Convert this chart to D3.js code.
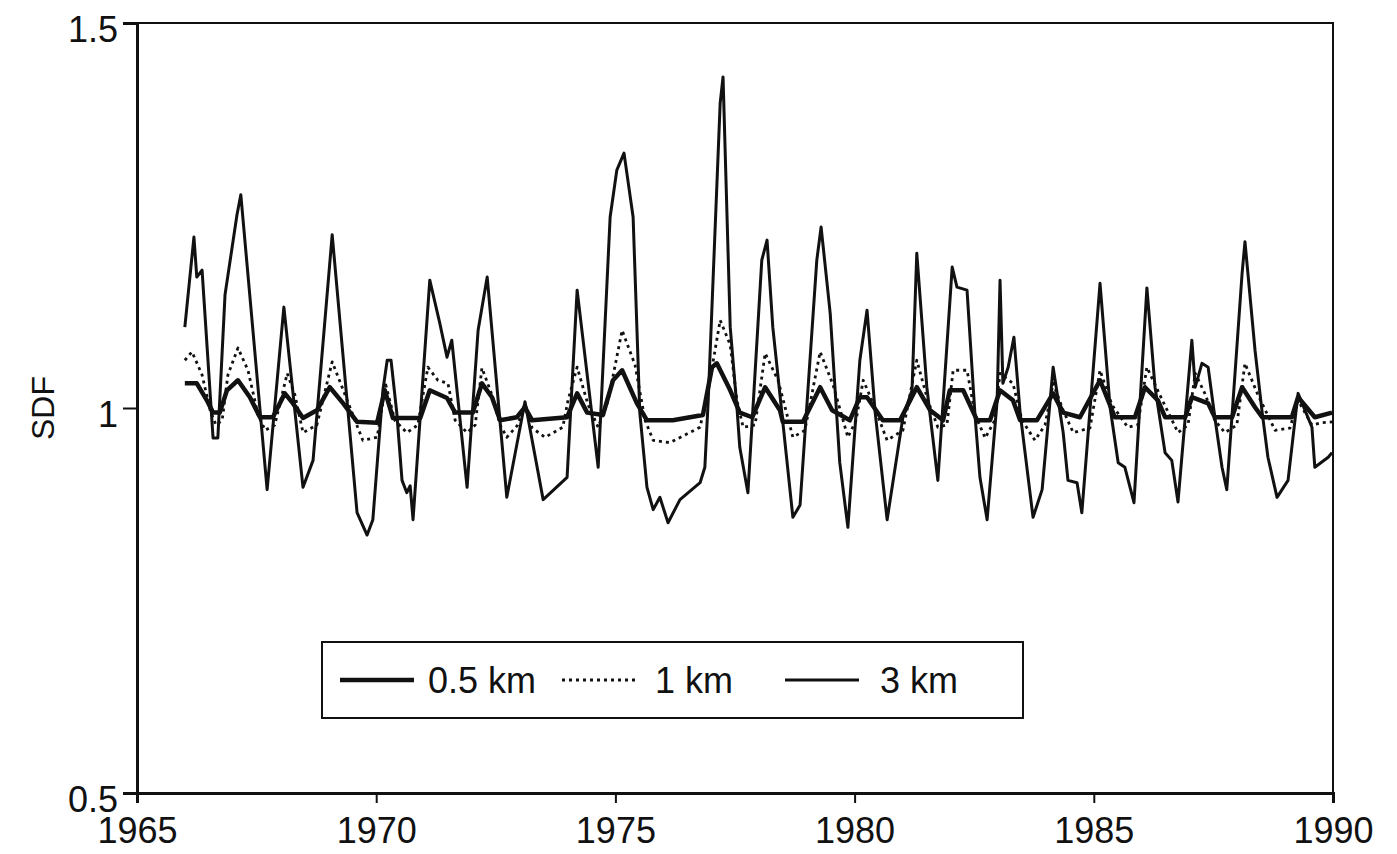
<!DOCTYPE html>
<html>
<head>
<meta charset="utf-8">
<script src="https://cdn.jsdelivr.net/npm/d3@7"></script>
<style>
  html, body { margin: 0; padding: 0; background: #fff; }
  svg text { font-family: "Liberation Sans", Arial, sans-serif; fill: #111; }
</style>
</head>
<body>
<svg id="chart" width="1397" height="854"></svg>
<script>
'use strict';

// SDF series: [year, value]
var km05 = [
  [1966.00, 1.032], [1966.25, 1.032], [1966.46, 1.010], [1966.59, 0.994], [1966.73, 0.994],
  [1966.88, 1.023], [1967.11, 1.036], [1967.36, 1.014], [1967.57, 0.988], [1967.84, 0.988],
  [1968.09, 1.019], [1968.26, 1.006], [1968.47, 0.987], [1968.76, 0.997], [1969.03, 1.027],
  [1969.31, 1.006], [1969.60, 0.982], [1970.02, 0.981], [1970.18, 1.023], [1970.35, 0.987],
  [1970.92, 0.987], [1971.12, 1.023], [1971.48, 1.013], [1971.65, 0.994], [1972.02, 0.994],
  [1972.21, 1.032], [1972.42, 1.014], [1972.59, 0.984], [1972.94, 0.988], [1973.11, 1.001],
  [1973.26, 0.984], [1973.99, 0.988], [1974.20, 1.019], [1974.41, 0.994], [1974.74, 0.991],
  [1974.95, 1.036], [1975.14, 1.049], [1975.45, 1.006], [1975.66, 0.984], [1976.20, 0.984],
  [1976.83, 0.991], [1977.02, 1.053], [1977.12, 1.058], [1977.40, 1.023], [1977.60, 0.994],
  [1977.86, 0.988], [1978.13, 1.027], [1978.44, 0.997], [1978.50, 0.982], [1978.92, 0.982],
  [1979.28, 1.027], [1979.53, 0.997], [1979.90, 0.984], [1980.11, 1.014], [1980.26, 1.014],
  [1980.59, 0.984], [1980.95, 0.984], [1981.30, 1.027], [1981.58, 0.997], [1981.85, 0.984],
  [1981.99, 1.023], [1982.27, 1.023], [1982.56, 0.984], [1982.83, 0.984], [1983.04, 1.023],
  [1983.31, 1.010], [1983.46, 0.984], [1983.81, 0.984], [1984.15, 1.019], [1984.36, 0.994],
  [1984.71, 0.988], [1985.13, 1.036], [1985.44, 0.988], [1985.86, 0.988], [1986.07, 1.027],
  [1986.34, 1.010], [1986.49, 0.988], [1986.91, 0.988], [1987.05, 1.014], [1987.39, 1.006],
  [1987.53, 0.988], [1987.89, 0.988], [1988.10, 1.027], [1988.37, 1.001], [1988.52, 0.988],
  [1989.14, 0.988], [1989.27, 1.014], [1989.62, 0.988], [1989.98, 0.994]
];

var km1 = [
  [1966.00, 1.062], [1966.15, 1.073], [1966.36, 1.043], [1966.53, 0.997], [1966.65, 0.978],
  [1966.78, 0.984], [1966.90, 1.043], [1967.11, 1.078], [1967.32, 1.049], [1967.53, 0.991],
  [1967.68, 0.971], [1967.88, 0.978], [1968.14, 1.045], [1968.30, 1.017], [1968.47, 0.968],
  [1968.76, 0.978], [1969.08, 1.060], [1969.35, 1.017], [1969.72, 0.958], [1970.02, 0.962],
  [1970.20, 1.030], [1970.39, 0.984], [1970.64, 0.968], [1970.87, 0.978], [1971.08, 1.053],
  [1971.29, 1.036], [1971.50, 1.032], [1971.65, 0.984], [1971.90, 0.968], [1972.07, 0.978],
  [1972.21, 1.052], [1972.42, 1.017], [1972.59, 0.978], [1972.73, 0.962], [1972.96, 0.978],
  [1973.11, 1.006], [1973.26, 0.974], [1973.53, 0.962], [1973.90, 0.975], [1974.01, 1.010],
  [1974.20, 1.053], [1974.43, 1.004], [1974.64, 0.975], [1974.85, 1.010], [1975.14, 1.101],
  [1975.41, 1.056], [1975.62, 0.984], [1975.79, 0.958], [1976.14, 0.955], [1976.77, 0.975],
  [1976.94, 1.023], [1977.19, 1.114], [1977.40, 1.082], [1977.54, 1.010], [1977.67, 0.975],
  [1977.92, 0.978], [1978.13, 1.071], [1978.40, 1.036], [1978.71, 0.962], [1978.96, 0.971],
  [1979.28, 1.073], [1979.55, 1.030], [1979.86, 0.962], [1980.03, 0.984], [1980.18, 1.036],
  [1980.36, 1.010], [1980.68, 0.958], [1981.01, 0.971], [1981.30, 1.062], [1981.53, 1.010],
  [1981.74, 0.975], [1981.93, 0.978], [1982.06, 1.049], [1982.35, 1.049], [1982.52, 0.991],
  [1982.73, 0.961], [1982.93, 0.984], [1983.04, 1.045], [1983.31, 1.032], [1983.50, 0.984],
  [1983.77, 0.958], [1983.98, 0.978], [1984.15, 1.032], [1984.36, 0.997], [1984.57, 0.968],
  [1984.92, 0.974], [1985.13, 1.049], [1985.38, 1.004], [1985.71, 0.975], [1985.92, 0.978],
  [1986.11, 1.053], [1986.38, 1.017], [1986.76, 0.968], [1986.97, 0.978], [1987.12, 1.045],
  [1987.32, 1.019], [1987.53, 0.984], [1987.74, 0.968], [1987.99, 0.978], [1988.16, 1.058],
  [1988.43, 1.017], [1988.79, 0.971], [1989.10, 0.974], [1989.27, 1.010], [1989.56, 0.978],
  [1989.77, 0.981], [1989.98, 0.982]
];

var km3 = [
  [1966.00, 1.105], [1966.19, 1.222], [1966.25, 1.170], [1966.36, 1.179], [1966.59, 0.961],
  [1966.69, 0.961], [1966.84, 1.147], [1967.09, 1.251], [1967.17, 1.277], [1967.72, 0.894],
  [1968.07, 1.131], [1968.47, 0.897], [1968.68, 0.932], [1969.08, 1.225], [1969.60, 0.864],
  [1969.81, 0.835], [1969.93, 0.855], [1970.14, 1.023], [1970.23, 1.062], [1970.31, 1.062],
  [1970.43, 0.994], [1970.54, 0.906], [1970.64, 0.890], [1970.71, 0.899], [1970.77, 0.855],
  [1971.12, 1.166], [1971.33, 1.110], [1971.48, 1.066], [1971.58, 1.088], [1971.90, 0.897],
  [1972.13, 1.101], [1972.32, 1.170], [1972.73, 0.884], [1973.11, 1.008], [1973.49, 0.881],
  [1973.99, 0.910], [1974.20, 1.153], [1974.64, 0.923], [1974.89, 1.248], [1975.03, 1.309],
  [1975.18, 1.331], [1975.37, 1.248], [1975.51, 0.994], [1975.66, 0.897], [1975.79, 0.868],
  [1975.93, 0.884], [1976.10, 0.851], [1976.35, 0.881], [1976.77, 0.903], [1976.87, 0.923],
  [1976.94, 1.010], [1977.19, 1.396], [1977.25, 1.430], [1977.40, 1.105], [1977.54, 1.001],
  [1977.60, 0.949], [1977.77, 0.890], [1978.06, 1.192], [1978.17, 1.218], [1978.29, 1.105],
  [1978.71, 0.858], [1978.86, 0.874], [1979.21, 1.192], [1979.30, 1.235], [1979.49, 1.123],
  [1979.69, 0.929], [1979.86, 0.845], [1980.11, 1.062], [1980.26, 1.127], [1980.43, 0.994],
  [1980.68, 0.855], [1981.01, 0.988], [1981.20, 1.023], [1981.30, 1.201], [1981.51, 1.027],
  [1981.74, 0.906], [1982.04, 1.183], [1982.14, 1.157], [1982.35, 1.153], [1982.52, 0.988],
  [1982.62, 0.910], [1982.77, 0.855], [1982.98, 1.010], [1983.04, 1.166], [1983.10, 1.032],
  [1983.21, 1.053], [1983.33, 1.092], [1983.46, 0.994], [1983.73, 0.858], [1983.92, 0.894],
  [1984.15, 1.053], [1984.36, 0.968], [1984.46, 0.906], [1984.65, 0.903], [1984.75, 0.864],
  [1985.13, 1.162], [1985.34, 1.001], [1985.51, 0.929], [1985.65, 0.923], [1985.84, 0.877],
  [1986.11, 1.156], [1986.28, 1.027], [1986.49, 0.942], [1986.63, 0.932], [1986.76, 0.878],
  [1987.05, 1.088], [1987.12, 1.027], [1987.26, 1.058], [1987.39, 1.053], [1987.53, 0.988],
  [1987.68, 0.923], [1987.78, 0.894], [1988.10, 1.175], [1988.16, 1.216], [1988.37, 1.075],
  [1988.52, 0.994], [1988.64, 0.936], [1988.83, 0.884], [1989.06, 0.906], [1989.27, 1.019],
  [1989.56, 0.975], [1989.62, 0.923], [1989.90, 0.936], [1989.98, 0.942]
];

var yearTicks = [1965, 1970, 1975, 1980, 1985, 1990];
var sdfTicks = [0.5, 1, 1.5];
var legendLabels = ['0.5 km', '1 km', '3 km'];

var margin = {top: 23, right: 64, bottom: 61, left: 137},
    width = 1397 - margin.left - margin.right,
    height = 854 - margin.top - margin.bottom;

var svg = d3.select('#chart');
var g = svg.append('g').attr('transform', 'translate(' + margin.left + ',' + margin.top + ')');

var x = d3.scaleLinear().domain([1965, 1990]).range([0, width]);
var y = d3.scaleLinear().domain([0.5, 1.5]).range([height, 0]);

var line = d3.line()
  .x(function (d) { return x(d[0]); })
  .y(function (d) { return y(d[1]); });

// series styles
var series = [
  {data: km3, width: 3, dash: null},
  {data: km1, width: 2.8, dash: '3,4'},
  {data: km05, width: 4.5, dash: null}
];

series.forEach(function (s) {
  g.append('path')
    .datum(s.data)
    .attr('fill', 'none')
    .attr('stroke', '#111')
    .attr('stroke-width', s.width)
    .attr('stroke-linejoin', 'round')
    .attr('stroke-dasharray', s.dash)
    .attr('d', line);
});

// frame
g.append('rect')
  .attr('width', width).attr('height', height)
  .attr('fill', 'none').attr('stroke', '#111').attr('stroke-width', 2);

// axes
var xAxis = g.append('g')
  .attr('transform', 'translate(0,' + height + ')')
  .call(d3.axisBottom(x).tickValues(yearTicks).tickFormat(d3.format('d')).tickSize(10).tickPadding(14));

var yAxis = g.append('g')
  .call(d3.axisLeft(y).tickValues(sdfTicks).tickFormat(function (d) { return String(d); }).tickSize(14).tickPadding(5));

[xAxis, yAxis].forEach(function (a) {
  a.select('.domain').attr('stroke', '#111').attr('stroke-width', 3);
  a.selectAll('.tick line').attr('stroke', '#111').attr('stroke-width', 2);
  a.selectAll('.tick text')
    .style('font-family', '"Liberation Sans", Arial, sans-serif')
    .style('font-size', '36px')
    .attr('fill', '#111');
});
yAxis.selectAll('.tick text').attr('dy', '0.5em');

svg.append('text')
  .attr('transform', 'translate(54,' + (margin.top + height / 2) + ') rotate(-90)')
  .attr('text-anchor', 'middle')
  .style('font-size', '32px')
  .text('SDF');

// legend
var legend = svg.append('g').attr('transform', 'translate(322,642)');
legend.append('rect')
  .attr('width', 701).attr('height', 76)
  .attr('fill', '#fff').attr('stroke', '#111').attr('stroke-width', 2);

var legendStyles = [series[2], series[1], series[0]];
var legendX = [18, 240, 463];
var legendTextX = [88, 93, 95];

legendLabels.forEach(function (lab, i) {
  var s = legendStyles[i];
  var item = legend.append('g').attr('transform', 'translate(' + legendX[i] + ',38)');
  item.append('line')
    .attr('x1', 0).attr('x2', 74)
    .attr('stroke', '#111')
    .attr('stroke-width', s.width)
    .attr('stroke-dasharray', s.dash);
  item.append('text')
    .attr('x', legendTextX[i]).attr('y', 13)
    .style('font-size', '36px')
    .text(lab);
});
</script>
</body>
</html>
